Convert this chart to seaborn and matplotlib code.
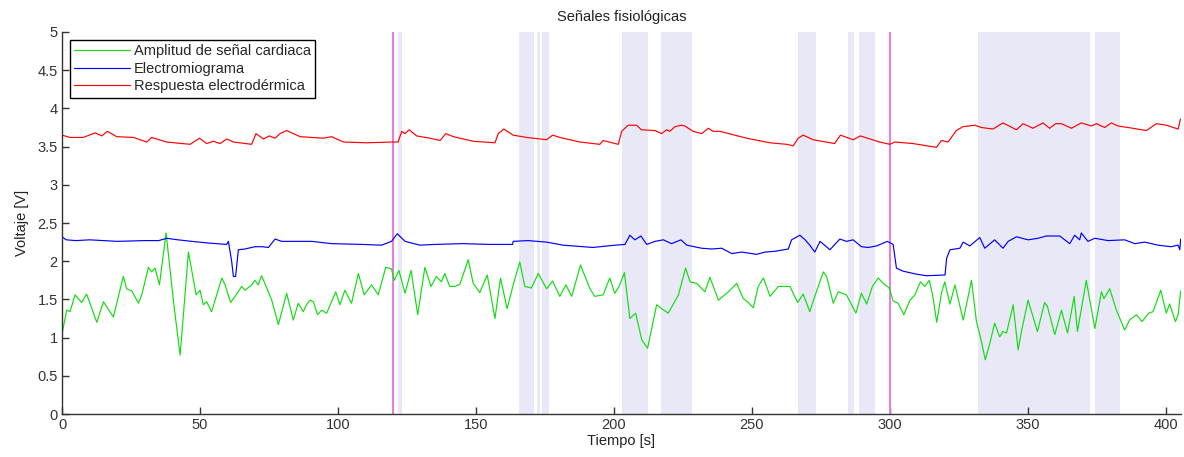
import numpy as np
import pandas as pd
import matplotlib
matplotlib.use("Agg")
import matplotlib.pyplot as plt
import seaborn as sns

# --- data ---
ecg_t = [0, 1.7, 2.9, 4.7, 7.1, 8.9, 12.6, 15.0, 18.6, 22.2, 23.4, 25.3, 27.7, 28.9,
         31.3, 32.5, 33.7, 35.3, 37.7, 40.4, 42.8, 45.8, 48.6, 50.0, 51.2, 52.4, 54.2,
         57.9, 59.1, 61.1, 62.7, 65.1, 66.3, 68.7, 69.9, 71.1, 72.3, 73.5, 76.0, 78.4,
         81.4, 83.8, 85.6, 87.4, 88.6, 89.9, 91.1, 92.6, 94.1, 95.9, 99.2, 100.7, 102.5,
         104.9, 107.4, 109.5, 112.2, 114.6, 117.3, 119.4, 120.4, 122.1, 124.3, 126.5,
         128.9, 131.5, 133.7, 135.7, 137.5, 138.7, 140.5, 142.4, 144.2, 147.2, 149.0,
         151.4, 154.1, 156.9, 158.9, 161.3, 163.5, 165.9, 167.7, 170.1, 172.6, 175.6,
         177.8, 180.4, 182.6, 184.7, 187.9, 191.3, 193.1, 196.1, 198.5, 200.3, 201.9,
         203.8, 205.8, 207.9, 210.1, 212.2, 215.5, 217.3, 219.7, 223.4, 226.0, 227.6,
         230.0, 233.0, 234.8, 237.9, 241.5, 244.5, 246.9, 248.7, 250.5, 252.3, 254.2,
         256.6, 259.6, 263.8, 266.6, 268.6, 271.0, 272.8, 275.9, 277.1, 279.5, 281.3,
         284.3, 287.7, 289.7, 291.6, 293.7, 295.8, 297.6, 299.8, 301.2, 303.0, 305.1,
         307.3, 309.1, 311.1, 312.7, 314.3, 315.5, 317.0, 318.7, 319.9, 321.8, 323.6,
         326.6, 329.6, 331.4, 333.2, 334.6, 336.2, 338.0, 339.8, 341.0, 342.3, 344.7,
         346.5, 347.7, 350.1, 353.5, 356.1, 357.1, 359.8, 362.2, 364.4, 366.8, 368.0,
         371.2, 374.3, 376.7, 377.6, 379.7, 382.1, 385.1, 386.9, 389.4, 391.4, 393.8,
         395.4, 398.2, 400.2, 401.4, 403.5, 404.5, 405.4]
ecg_v = [1.05, 1.36, 1.34, 1.56, 1.46, 1.57, 1.20, 1.47, 1.27, 1.80, 1.64, 1.61, 1.45, 1.56,
         1.92, 1.86, 1.91, 1.69, 2.37, 1.47, 0.77, 2.12, 1.56, 1.62, 1.43, 1.47, 1.34,
         1.78, 1.69, 1.46, 1.54, 1.67, 1.62, 1.69, 1.75, 1.69, 1.81, 1.71, 1.49, 1.17,
         1.58, 1.23, 1.45, 1.34, 1.43, 1.49, 1.47, 1.30, 1.36, 1.32, 1.60, 1.43, 1.62,
         1.45, 1.84, 1.56, 1.69, 1.56, 1.92, 1.90, 1.75, 1.88, 1.58, 1.88,
         1.30, 1.92, 1.67, 1.80, 1.73, 1.84, 1.67, 1.67, 1.70, 2.02, 1.71,
         1.59, 1.82, 1.25, 1.78, 1.38, 1.69, 1.99, 1.67, 1.65, 1.84, 1.64,
         1.74, 1.54, 1.69, 1.54, 1.95, 1.64, 1.54, 1.56, 1.78, 1.58, 1.67,
         1.85, 1.25, 1.32, 0.97, 0.86, 1.43, 1.38, 1.32, 1.56, 1.91, 1.73,
         1.71, 1.60, 1.79, 1.49, 1.60, 1.71, 1.51, 1.46, 1.39, 1.67, 1.78,
         1.54, 1.67, 1.67, 1.46, 1.57, 1.34, 1.54, 1.86, 1.80, 1.45, 1.60,
         1.56, 1.32, 1.58, 1.44, 1.67, 1.78, 1.71, 1.65, 1.48, 1.45, 1.30,
         1.49, 1.56, 1.73, 1.67, 1.75, 1.56, 1.20, 1.58, 1.73, 1.44, 1.69,
         1.23, 1.75, 1.21, 0.95, 0.71, 0.92, 1.19, 1.01, 1.08, 1.06, 1.43,
         0.84, 1.08, 1.49, 1.08, 1.46, 1.41, 1.04, 1.36, 1.06, 1.54, 1.08,
         1.75, 1.12, 1.60, 1.51, 1.64, 1.36, 1.10, 1.23, 1.30, 1.21, 1.32,
         1.34, 1.62, 1.32, 1.44, 1.21, 1.30, 1.61]

emg_t = [0, 1.5, 5, 10, 20, 30, 35, 38, 42, 47, 52.4, 59.7, 60.3, 61.5, 62.1, 62.9, 63.9,
         66.3, 69.9, 72.6, 74.8, 77.2, 79.6, 90.5, 97.7, 108.6, 115.8, 119.4, 121.5,
         124.3, 129.7, 135.2, 145, 155, 163.3, 163.5, 168.9, 175.6, 181.6, 192.4,
         200.4, 204.0, 205.8, 207.6, 209.8, 211.9, 214.9, 217.9, 220.9, 224.3, 226.4,
         231.8, 235.4, 239.1, 242.7, 246.3, 251.7, 254.8, 258.4, 263.2, 264.4, 267.4,
         269.3, 271.0, 272.8, 274.7, 278.3, 281.9, 284.3, 286.7, 289.7, 292.2, 295.2,
         299.1, 301.2, 302.4, 304.8, 309.7, 313.3, 320.0, 320.6, 321.8, 325.4, 326.6,
         329.0, 332.6, 334.4, 338.0, 341.0, 342.9, 345.9, 350.1, 353.7, 356.7, 361.6,
         365.2, 367.0, 368.8, 369.4, 371.8, 374.3, 379.1, 385.1, 388.8, 392.4, 397.2,
         402.0, 404.5, 405.1, 405.4]
emg_v = [2.32, 2.28, 2.27, 2.28, 2.26, 2.27, 2.27, 2.30, 2.28, 2.26, 2.24, 2.22, 2.26, 1.99,
         1.80, 1.80, 2.15, 2.16, 2.19, 2.19, 2.18, 2.29, 2.26, 2.26, 2.23, 2.22, 2.21,
         2.26, 2.36, 2.26, 2.21, 2.22, 2.23, 2.22, 2.22, 2.26, 2.27, 2.25, 2.21, 2.18,
         2.21, 2.22, 2.34, 2.28, 2.33, 2.22, 2.26, 2.28, 2.23, 2.28, 2.21,
         2.17, 2.16, 2.17, 2.10, 2.12, 2.09, 2.12, 2.13, 2.16, 2.28, 2.34,
         2.28, 2.21, 2.12, 2.26, 2.15, 2.29, 2.26, 2.28, 2.19, 2.18, 2.20,
         2.26, 2.22, 1.91, 1.87, 1.83, 1.81, 1.82, 2.04, 2.15, 2.17, 2.25,
         2.20, 2.31, 2.17, 2.28, 2.17, 2.26, 2.32, 2.28, 2.30, 2.33, 2.33,
         2.23, 2.34, 2.28, 2.37, 2.26, 2.30, 2.27, 2.28, 2.23, 2.25, 2.21,
         2.19, 2.21, 2.15, 2.29]

eda_t = [0, 2.9, 7.7, 12.0, 14.4, 16.4, 19.8, 25.9, 30.7, 32.5, 37.9, 46.4, 49.8, 52.4,
         54.9, 57.3, 59.7, 62.1, 68.7, 70.3, 73.0, 75.1, 77.2, 79.0, 81.4, 86.3, 94.7,
         97.7, 102.0, 110.4, 119.8, 121.8, 123.1, 124.3, 125.8, 128.5, 133.3, 137.0,
         139.1, 141.8, 149.0, 156.9, 158.1, 160.1, 163.5, 168.4, 175.6, 177.8, 180.4,
         187.7, 194.9, 196.1, 201.6, 202.8, 205.2, 208.2, 210.0, 214.9, 217.3, 219.1,
         220.3, 222.1, 224.5, 225.7, 228.7, 231.8, 234.2, 236.0, 238.4, 248.1, 256.5,
         262.6, 265.0, 266.8, 268.6, 272.2, 280.0, 282.1, 286.7, 289.3, 296.3, 300.0,
         301.8, 308.4, 316.9, 318.7, 321.1, 324.1, 326.5, 330.8, 333.2, 337.4, 341.0,
         345.9, 348.3, 351.9, 355.5, 357.9, 360.1, 362.2, 365.8, 369.4, 373.0, 374.9,
         377.9, 380.3, 382.7, 388.1, 393.0, 396.6, 400.2, 404.5, 405.3]
eda_v = [3.65, 3.62, 3.62, 3.68, 3.64, 3.70, 3.63, 3.62, 3.56, 3.62, 3.56, 3.53, 3.61, 3.54,
         3.57, 3.54, 3.60, 3.56, 3.53, 3.67, 3.60, 3.64, 3.61, 3.67, 3.71, 3.63, 3.61,
         3.63, 3.56, 3.55, 3.56, 3.56, 3.70, 3.67, 3.72, 3.64, 3.61, 3.58,
         3.67, 3.63, 3.57, 3.55, 3.67, 3.73, 3.65, 3.62, 3.59, 3.65, 3.62,
         3.56, 3.53, 3.58, 3.53, 3.70, 3.78, 3.78, 3.72, 3.71, 3.67, 3.72,
         3.70, 3.76, 3.78, 3.77, 3.70, 3.67, 3.74, 3.70, 3.70, 3.61, 3.55,
         3.53, 3.51, 3.61, 3.65, 3.59, 3.54, 3.65, 3.59, 3.64, 3.56, 3.53,
         3.56, 3.54, 3.49, 3.58, 3.56, 3.71, 3.76, 3.78, 3.75, 3.73, 3.81,
         3.72, 3.80, 3.74, 3.81, 3.74, 3.80, 3.80, 3.74, 3.81, 3.77, 3.80,
         3.75, 3.81, 3.77, 3.74, 3.71, 3.80, 3.78, 3.73, 3.86]

span_start = [121.6, 165.7, 172.0, 173.9, 202.9, 216.9, 266.7, 285.0, 288.8, 332.0, 374.2]
span_end = [123.3, 171.1, 173.2, 176.4, 212.3, 228.3, 273.2, 286.9, 294.5, 372.5, 383.4]
event_t = [120, 300]

labels = ["Amplitud de señal cardiaca", "Electromiograma", "Respuesta electrodérmica"]
colors = ["#11dd11", "#0000ff", "#ff0000"]

df = pd.concat([
    pd.DataFrame({"t": ecg_t, "v": ecg_v, "serie": labels[0]}),
    pd.DataFrame({"t": emg_t, "v": emg_v, "serie": labels[1]}),
    pd.DataFrame({"t": eda_t, "v": eda_v, "serie": labels[2]}),
])

sns.set_style("ticks")
plt.rcParams['font.family'] = ['Liberation Sans', 'DejaVu Sans']

fig = plt.figure(figsize=(11.84, 4.57), dpi=100)
ax = fig.add_axes([0.0524, 0.094, 0.945, 0.836])

for a, b in zip(span_start, span_end):
    ax.axvspan(a, b, color="#e9e8f7", lw=0, zorder=0)
for e in event_t:
    ax.axvline(e, color="#ee77dd", lw=1.4, zorder=1)

sns.lineplot(data=df, x="t", y="v", hue="serie", palette=dict(zip(labels, colors)),
             sort=False, estimator=None, lw=0.85, ax=ax, zorder=2)

ax.set_xlim(0, 405.5)
ax.set_ylim(0, 5)
ax.set_yticks(np.arange(0, 5.01, 0.5))
ax.set_xticks(np.arange(0, 401, 50))
ax.yaxis.set_major_formatter(matplotlib.ticker.FuncFormatter(lambda v, _: f"{v:g}"))
ax.tick_params(direction="in", length=5, width=1, colors="#333333", labelsize=10.5, pad=3)
sns.despine(ax=ax, top=True, right=True)
for s in ["left", "bottom"]:
    ax.spines[s].set_color("#333333")
    ax.spines[s].set_linewidth(1)

ax.set_xlabel("Tiempo [s]", fontsize=10.5, color="#222222", labelpad=1)
ax.set_ylabel("Voltaje [V]", fontsize=10.5, color="#222222", labelpad=6)
ax.set_title("Señales fisiológicas", fontsize=10.5, color="#222222", pad=8)

leg = ax.legend(loc="upper left", bbox_to_anchor=(0.007, 0.98), fontsize=10.5,
                frameon=True, fancybox=False, edgecolor="black", handlelength=3.8,
                borderpad=0.3, labelspacing=0.25, handletextpad=0.3, borderaxespad=0)
leg.get_frame().set_linewidth(1)
leg.get_frame().set_alpha(1)

fig.savefig("out.png", dpi=100)
